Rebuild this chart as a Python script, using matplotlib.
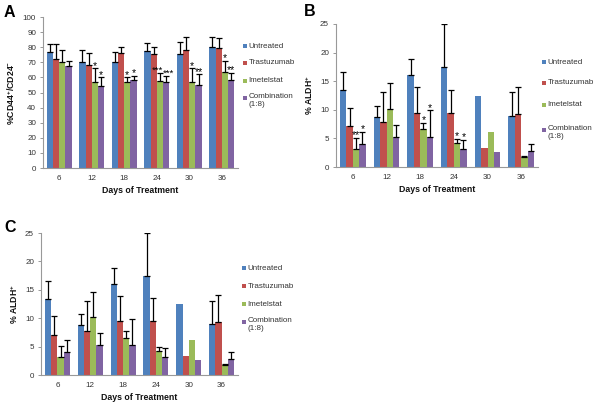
import matplotlib
matplotlib.use("Agg")
import matplotlib.pyplot as plt
import numpy as np
from matplotlib.patches import Rectangle

plt.rcParams['font.family'] = ['Liberation Sans', 'DejaVu Sans']
plt.rcParams['mathtext.fontset'] = 'custom'
plt.rcParams['mathtext.rm'] = 'Liberation Sans'
plt.rcParams['mathtext.bf'] = 'Liberation Sans:bold'

days = ["6", "12", "18", "24", "30", "36"]
series = ["Untreated", "Trastuzumab", "Imetelstat", "Combination\n(1:8)"]
colors = ["#4F81BD", "#C0504D", "#9BBB59", "#8064A2"]

# Panel A: %CD44+/CD24-
a_untreated = [77, 70, 70.5, 77.5, 75.5, 80]
a_trast = [72, 68, 76, 75.5, 78, 79.5]
a_imet = [70.5, 57, 57, 57.5, 57, 63.5]
a_comb = [67.5, 54, 58.5, 57, 55, 58.5]
a_err_untreated = [5, 8, 6, 5, 8, 6.5]
a_err_trast = [10, 8, 4, 4.5, 9, 6.5]
a_err_imet = [7.5, 9, 3, 5.5, 9, 7.5]
a_err_comb = [3.5, 6, 2.5, 4, 7, 4.5]
a_stars_imet = ["", "*", "*", "***", "*", "*"]
a_stars_comb = ["", "*", "*", "***", "**", "**"]

# Panels B and C: % ALDH+
b_untreated = [13.4, 8.8, 16.0, 17.4, 12.5, 9.0]
b_trast = [7.1, 7.8, 9.5, 9.5, 3.4, 9.3]
b_imet = [3.2, 10.2, 6.6, 4.2, 6.1, 1.7]
b_comb = [4.1, 5.2, 5.3, 3.2, 2.6, 2.8]
b_err_untreated = [3.2, 1.9, 2.9, 7.6, 0, 4.1]
b_err_trast = [3.3, 5.3, 4.4, 4.0, 0, 4.7]
b_err_imet = [1.9, 4.4, 1.1, 0.7, 0, 0.3]
b_err_comb = [2.1, 2.2, 4.6, 1.5, 0, 1.3]
b_stars_imet = ["**", "", "*", "*", "", ""]
b_stars_comb = ["*", "", "*", "*", "", ""]

W, H = 600, 405
fig = plt.figure(figsize=(6, 4.05), dpi=100)
TXT = '#333333'


def make_axes(l, r, t, b):
    return fig.add_axes([l / W, (H - b) / H, (r - l) / W, (b - t) / H])


def draw(ax, vals, errs, ymax, ystep, ylabel, stars=None, star_off=0.0):
    x = np.arange(len(days))
    bw = 0.19
    for i, (v, e, c) in enumerate(zip(vals, errs, colors)):
        pos = x + (i - 1.5) * bw
        ax.bar(pos, v, bw, color=c, zorder=2)
        e = np.array(e, dtype=float)
        mask = e > 0
        ax.errorbar(pos[mask], np.array(v)[mask], yerr=[np.zeros(mask.sum()), e[mask]],
                    fmt='none', ecolor='black', elinewidth=0.9, capsize=2.0,
                    capthick=0.9, zorder=3)
        if stars is not None and stars[i] is not None:
            for j, s in enumerate(stars[i]):
                if s:
                    dx = 0.0
                    fs = 7.5
                    if len(s) >= 3:
                        dx = -0.08 if i == 2 else 0.08
                        fs = 6.8
                    ax.text(pos[j] + dx, v[j] + e[j] + star_off, s, ha='center', va='center',
                            fontsize=fs, color='black', zorder=4)
    ax.set_xlim(-0.5, len(days) - 0.5)
    ax.set_ylim(0, ymax)
    ax.set_yticks(np.arange(0, ymax + 0.01, ystep))
    ax.set_xticks(x)
    ax.set_xticklabels(days)
    ax.tick_params(axis='x', length=0, labelsize=5.8, colors=TXT, pad=5)
    ax.tick_params(axis='y', length=2.5, labelsize=5.8, colors=TXT, width=0.6, color='#888888', pad=2.5)
    for s in ['top', 'right']:
        ax.spines[s].set_visible(False)
    for s in ['left', 'bottom']:
        ax.spines[s].set_color('#999999')
        ax.spines[s].set_linewidth(0.8)
    ax.set_xlabel("Days of Treatment", fontsize=6.3, fontweight='bold', labelpad=3, color='#111111')
    ax.set_ylabel(ylabel, fontsize=6.3, fontweight='bold', labelpad=4, color='#111111')


def legend(x_sq, ys):
    for c, lab, y in zip(colors, series, ys):
        fig.patches.append(Rectangle((x_sq / W, 1 - (y + 2) / H), 4 / W, 4 / H,
                                     facecolor=c, edgecolor='none', transform=fig.transFigure))
        if '\n' in lab:
            fig.text((x_sq + 5.5) / W, 1 - (y - 4.5) / H, lab, fontsize=5.8, color=TXT,
                     ha='left', va='top', linespacing=1.15)
        else:
            fig.text((x_sq + 5.5) / W, 1 - y / H, lab, fontsize=5.8, color=TXT,
                     ha='left', va='center')


axA = make_axes(43, 238, 17, 168)
draw(axA, [a_untreated, a_trast, a_imet, a_comb],
     [a_err_untreated, a_err_trast, a_err_imet, a_err_comb],
     100, 10, r"%CD44$^{\mathbf{+}}$/CD24$^{\mathbf{-}}$",
     stars=[None, None, a_stars_imet, a_stars_comb], star_off=1.8)
legend(243, [46, 63, 81, 98])

axB = make_axes(336, 538, 24, 167)
draw(axB, [b_untreated, b_trast, b_imet, b_comb],
     [b_err_untreated, b_err_trast, b_err_imet, b_err_comb],
     25, 5, r"% ALDH$^{\mathbf{+}}$",
     stars=[None, None, b_stars_imet, b_stars_comb], star_off=0.45)
legend(542, [62, 83, 105, 130])

axC = make_axes(41, 238, 233, 375)
draw(axC, [b_untreated, b_trast, b_imet, b_comb],
     [b_err_untreated, b_err_trast, b_err_imet, b_err_comb],
     25, 5, r"% ALDH$^{\mathbf{+}}$")
legend(242, [268, 286, 304, 322])

fig.text(4 / W, 1 - 5 / H, "A", fontsize=11.5, fontweight='bold', va='top')
fig.text(304 / W, 1 - 4 / H, "B", fontsize=11.5, fontweight='bold', va='top')
fig.text(4 / W, 1 - 220 / H, "C", fontsize=11.5, fontweight='bold', va='top')

fig.savefig("out.png", dpi=100)
